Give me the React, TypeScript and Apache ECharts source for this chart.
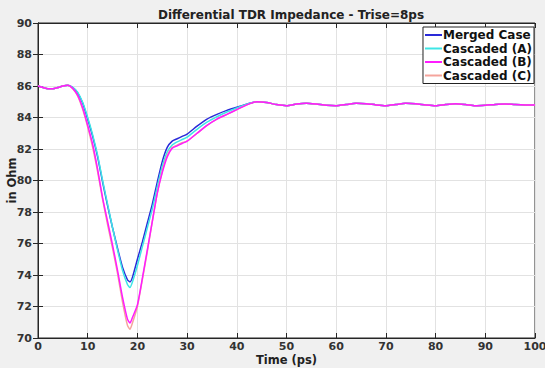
import React, { useEffect, useRef } from "react";
import * as echarts from "echarts";

const times = [0, 1, 2, 3, 4, 5, 6, 7, 8, 9, 10, 11, 12, 13, 14, 15, 16, 17, 18, 18.5, 19, 20, 21, 22, 23, 24, 25, 26, 27, 28, 29, 30,
  32, 34, 36, 38, 40, 42, 44, 46, 48, 50, 52, 54, 56, 58, 60, 62, 64, 66, 68, 70, 72, 74, 76, 78, 80, 82, 84, 86, 88, 90, 92, 94, 96, 98, 100];

const head = [86.0, 85.9, 85.82, 85.82, 85.9, 86.0, 86.05];
const tail = [84.95, 84.82, 84.75, 84.85, 84.9, 84.85, 84.78, 84.75, 84.82, 84.9, 84.88, 84.8, 84.75, 84.82, 84.9, 84.87, 84.8, 84.75, 84.82, 84.87, 84.82, 84.75, 84.78, 84.83, 84.86, 84.82, 84.8, 84.8];

const mergedCase = [...head,
  85.9, 85.55, 84.9, 83.9, 82.8, 81.5, 79.9, 78.4, 77.0, 75.7, 74.5, 73.7, 73.56, 73.85, 75.0, 76.1, 77.3, 78.5, 79.9, 81.2, 82.1, 82.5, 82.65, 82.8, 82.95,
  83.45, 83.9, 84.2, 84.45, 84.65, 84.85, 85.0, ...tail];
const cascadedA = [...head,
  85.92, 85.6, 84.95, 84.0, 82.9, 81.6, 80.0, 78.5, 77.0, 75.6, 74.3, 73.4, 73.2, 73.55, 74.6, 75.8, 77.0, 78.2, 79.6, 80.9, 81.8, 82.25, 82.45, 82.6, 82.75,
  83.25, 83.7, 84.05, 84.35, 84.6, 84.85, 85.0, ...tail];
const cascadedB = [...head,
  85.85, 85.4, 84.6, 83.5, 82.3, 80.7, 78.9, 77.4, 75.9, 74.3, 72.6, 71.2, 70.95, 71.3, 72.1, 73.8, 75.6, 77.4, 79.2, 80.5, 81.5, 82.05, 82.2, 82.35, 82.5,
  83.0, 83.5, 83.9, 84.2, 84.5, 84.8, 85.0, ...tail];
const cascadedC = [...head,
  85.82, 85.35, 84.5, 83.4, 82.1, 80.55, 78.8, 77.2, 75.7, 74.1, 72.3, 70.8, 70.55, 70.95, 72.0, 73.7, 75.5, 77.4, 79.2, 80.6, 81.6, 82.1, 82.25, 82.4, 82.5,
  83.0, 83.5, 83.9, 84.2, 84.5, 84.8, 85.0, ...tail];

const seriesNames = ["Merged Case", "Cascaded (A)", "Cascaded (B)", "Cascaded (C)"];
const seriesColors = ["#2a2ad8", "#3ee6e6", "#ff1cff", "#f5a49c"];

const pair = (ys: number[]) => times.map((t, i) => [t, ys[i]]);

export default function App() {
  const ref = useRef<HTMLDivElement>(null);
  useEffect(() => {
    if (!ref.current) return;
    const chart = echarts.init(ref.current, null, { renderer: "svg" });
    const font = "DejaVu Sans";
    const axisColor = "#262626";
    const lab = { fontFamily: font, fontWeight: "bold" as const, fontSize: 11, color: "#333" };
    const mk = (name: string, color: string, ys: number[]) => ({
      name, type: "line", data: pair(ys), showSymbol: false, symbol: "none",
      lineStyle: { color, width: 1.5 }, itemStyle: { color }, smooth: 0.2,
    });
    chart.setOption({
      animation: false,
      backgroundColor: "#f0f0f0",
      title: {
        text: "Differential TDR Impedance - Trise=8ps", left: 286, top: 4, textAlign: "center",
        textStyle: { fontFamily: font, fontWeight: "bold", fontSize: 12, color: "#222" },
      },
      legend: {
        data: seriesNames, orient: "vertical", right: 11, top: 27, itemGap: 1.5, itemWidth: 17, itemHeight: 2,
        padding: [2, 2, 2, 2], backgroundColor: "#fff", borderColor: "#222", borderWidth: 1, borderRadius: 0,
        icon: "rect",
        textStyle: { fontFamily: font, fontWeight: "bold", fontSize: 12, color: "#111", padding: [0, 0, 0, -4], lineHeight: 12 },
      },
      grid: {
        left: 38, right: 10, top: 23, bottom: 30, show: true, backgroundColor: "#fff", borderColor: axisColor, borderWidth: 1,
        containLabel: false, outerBoundsMode: "none",
      },
      xAxis: [
        {
          type: "value", min: 0, max: 100, interval: 10, name: "Time (ps)", nameLocation: "middle", nameGap: 16,
          nameMoveOverlap: false,
          nameTextStyle: { ...lab, fontSize: 11.5, color: "#222" },
          axisLine: { show: true, lineStyle: { color: axisColor } },
          axisTick: { show: true, inside: true, length: 5, lineStyle: { color: axisColor } },
          axisLabel: { ...lab, margin: 3 },
          splitLine: { show: true, lineStyle: { color: "#e2e2e2" } },
        },
        {
          type: "value", min: 0, max: 100, interval: 10, position: "top",
          axisLine: { show: true, lineStyle: { color: axisColor } },
          axisTick: { show: true, inside: true, length: 5, lineStyle: { color: axisColor } },
          axisLabel: { show: false }, splitLine: { show: false },
        },
      ],
      yAxis: [
        {
          type: "value", min: 70, max: 90, interval: 2, name: "in Ohm", nameLocation: "middle", nameGap: 20,
          nameMoveOverlap: false,
          nameTextStyle: { ...lab, fontSize: 11.5, color: "#222" },
          axisLine: { show: true, lineStyle: { color: axisColor } },
          axisTick: { show: true, inside: true, length: 5, lineStyle: { color: axisColor } },
          axisLabel: { ...lab, margin: 6 },
          splitLine: { show: true, lineStyle: { color: "#e2e2e2" } },
        },
        {
          type: "value", min: 70, max: 90, interval: 2, position: "right",
          axisLine: { show: true, lineStyle: { color: axisColor } },
          axisTick: { show: true, inside: true, length: 5, lineStyle: { color: axisColor } },
          axisLabel: { show: false }, splitLine: { show: false },
        },
      ],
      series: [
        mk(seriesNames[0], seriesColors[0], mergedCase),
        mk(seriesNames[1], seriesColors[1], cascadedA),
        mk(seriesNames[3], seriesColors[3], cascadedC),
        mk(seriesNames[2], seriesColors[2], cascadedB),
      ],
    });
    return () => chart.dispose();
  }, []);
  return <div ref={ref} style={{ position: "fixed", left: 0, top: 0, width: 545, height: 368 }} />;
}
